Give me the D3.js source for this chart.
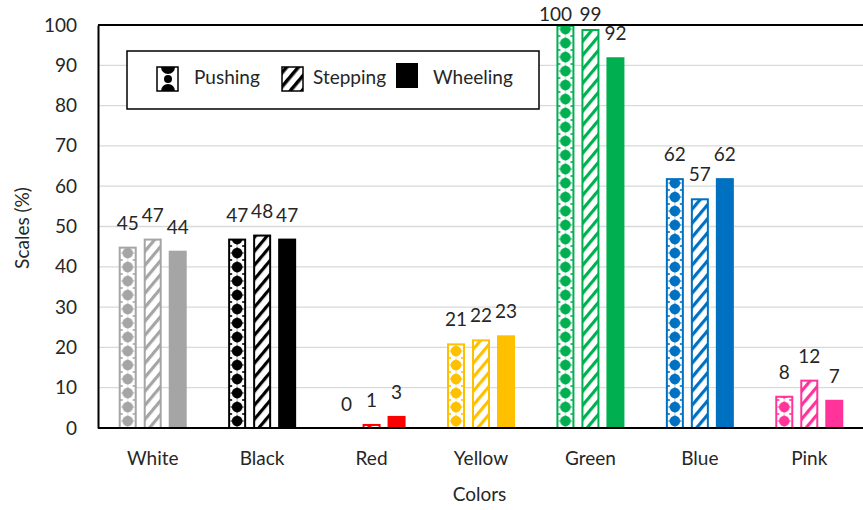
<!DOCTYPE html>
<html><head><meta charset="utf-8">
<script src="https://cdn.jsdelivr.net/npm/d3@7"></script>
<style>body{margin:0;background:#fff}svg{display:block}text{font-family:Lato,"Open Sans",sans-serif;fill:#262626}</style>
</head><body>
<svg id="c" width="863" height="510"></svg>
<script>
const categories = ["White","Black","Red","Yellow","Green","Blue","Pink"];
const colors = ["#A5A5A5","#000000","#FF0000","#FFC000","#00B050","#0070C0","#FF3399"];
const series = ["Pushing","Stepping","Wheeling"];
const pushing = [45,47,0,21,100,62,8];
const stepping = [47,48,1,22,99,57,12];
const wheeling = [44,47,3,23,92,62,7];
const yTicks = [0,10,20,30,40,50,60,70,80,90,100];
const values = {Pushing: pushing, Stepping: stepping, Wheeling: wheeling};

const svg = d3.select("#c");
const L = 98, R = 864, T = 25, B = 428;
const x = d3.scaleBand().domain(categories).range([L, R]).padding(0);
const y = d3.scaleLinear().domain([0,100]).range([B, T]);
const groupW = 68;
const xs = d3.scaleBand().domain(series).range([0, groupW]).paddingInner(0.28).paddingOuter(0);
const bw = xs.bandwidth();

const defs = svg.append("defs");
const PH = 14;
categories.forEach((c,i) => {
  const col = colors[i];
  // pushing pattern (coordinates local to the group)
  const p = defs.append("pattern").attr("id","push"+i).attr("patternUnits","userSpaceOnUse")
    .attr("x", xs("Pushing")).attr("y", B).attr("width", 200).attr("height", PH);
  p.append("rect").attr("width", 200).attr("height",PH).attr("fill","#fff");
  p.append("circle").attr("cx", bw/2).attr("cy", PH/2).attr("r", 5.3).attr("fill", col);
  p.append("path").attr("d", `M${bw/2},${PH/2-7}L${bw/2+2.2},${PH/2}L${bw/2},${PH/2+7}L${bw/2-2.2},${PH/2}Z`).attr("fill", col);
  p.append("path").attr("d", `M${bw/2-7.5},${PH/2}L${bw/2},${PH/2-2}L${bw/2+7.5},${PH/2}L${bw/2},${PH/2+2}Z`).attr("fill", col);
  p.append("rect").attr("x", 0).attr("y", -0.8).attr("width", 4).attr("height", 1.6).attr("fill", col);
  p.append("rect").attr("x", 0).attr("y", PH-0.8).attr("width", 4).attr("height", 1.6).attr("fill", col);
  p.append("rect").attr("x", bw-4).attr("y", -0.8).attr("width", 4).attr("height", 1.6).attr("fill", col);
  p.append("rect").attr("x", bw-4).attr("y", PH-0.8).attr("width", 4).attr("height", 1.6).attr("fill", col);
  // stepping stripes
  const s = defs.append("pattern").attr("id","step"+i).attr("patternUnits","userSpaceOnUse")
    .attr("width", 9).attr("height", 9).attr("patternTransform","rotate(40)");
  s.append("rect").attr("width",9).attr("height",9).attr("fill","#fff");
  s.append("rect").attr("x",0).attr("y",0).attr("width",3.2).attr("height",9).attr("fill",col);
});

// gridlines
svg.append("g").selectAll("line").data(yTicks.filter(t=>t>0 && t<100)).join("line")
  .attr("x1", L).attr("x2", 863).attr("y1", d=>y(d)).attr("y2", d=>y(d))
  .attr("stroke","#D9D9D9").attr("stroke-width",1.3);

// bars
const groups = svg.append("g").selectAll("g").data(categories).join("g")
  .attr("transform", c => `translate(${x(c) + (x.bandwidth()-groupW)/2},0)`);
groups.each(function(c, i){
  const g = d3.select(this);
  const col = colors[i];
  series.forEach(s => {
    const v = values[s][i];
    if (v <= 0) return;
    const x0 = xs(s), y0 = y(v), h = B - y0;
    if (s === "Wheeling") {
      g.append("rect").attr("x", x0).attr("y", y0).attr("width", bw).attr("height", h).attr("fill", col);
    } else {
      g.append("rect").attr("x", x0+1).attr("y", y0+1).attr("width", bw-2).attr("height", Math.max(h-1,0.5))
        .attr("fill", s === "Pushing" ? `url(#push${i})` : `url(#step${i})`)
        .attr("stroke", col).attr("stroke-width", 2);
    }
  });
  series.forEach((s, k) => {
    const v = values[s][i];
    const raw = y(v) - 17;
    const by = Math.max(raw, 21);
    let cx = xs(s) + bw/2;
    // labels pushed against the top edge slide sideways so they don't collide
    const next = series[k+1];
    if (raw < 21 && next && y(values[next][i]) - 17 < 21) cx -= 10;
    g.append("text").attr("x", cx).attr("y", by).attr("text-anchor","middle")
      .attr("font-size", 19).text(v);
  });
});

// axes lines / frame
svg.append("line").attr("x1", L).attr("x2", 863).attr("y1", T).attr("y2", T).attr("stroke","#000").attr("stroke-width",2);
const xAxis = d3.axisBottom(x).tickSize(0).tickPadding(29);
const gx = svg.append("g").attr("transform", `translate(0,${B})`).call(xAxis);
gx.select(".domain").attr("stroke","#000").attr("stroke-width",2).attr("d", `M${L},0H863`);
gx.selectAll("text").attr("font-size",19).attr("font-family","Lato").attr("fill","#262626").attr("dy","0.4em");
const yAxis = d3.axisLeft(y).tickValues(yTicks).tickSize(0).tickPadding(21);
const gy = svg.append("g").attr("transform", `translate(${L},0)`).call(yAxis);
gy.select(".domain").attr("stroke","#000").attr("stroke-width",2);
gy.selectAll("text").attr("font-size",19).attr("font-family","Lato").attr("fill","#262626");

// axis titles
svg.append("text").attr("x", (L+863)/2 - 1).attr("y", 501).attr("text-anchor","middle").attr("font-size",19).text("Colors");
svg.append("text").attr("transform","translate(29,228) rotate(-90)").attr("text-anchor","middle").attr("font-size",19).text("Scales (%)");

// legend
const lg = svg.append("g");
lg.append("rect").attr("x",127).attr("y",51).attr("width",412).attr("height",58).attr("fill","#fff").attr("stroke","#000").attr("stroke-width",1.5);
const legItems = [
  {name:"Pushing", sx:157, sy:67, tx:194},
  {name:"Stepping", sx:282, sy:67, tx:313},
  {name:"Wheeling", sx:396, sy:63, tx:433}
];
const lp = defs.append("pattern").attr("id","lpush").attr("patternUnits","userSpaceOnUse").attr("x",157).attr("y",67).attr("width",22).attr("height",24);
lp.append("rect").attr("width",22).attr("height",24).attr("fill","#fff");
lp.append("circle").attr("cx",11).attr("cy",0).attr("r",7).attr("fill","#000");
lp.append("circle").attr("cx",11).attr("cy",24).attr("r",7).attr("fill","#000");
lp.append("circle").attr("cx",11).attr("cy",12).attr("r",4).attr("fill","#000");
const ls = defs.append("pattern").attr("id","lstep").attr("patternUnits","userSpaceOnUse").attr("width",9).attr("height",9).attr("patternTransform","rotate(40)");
ls.append("rect").attr("width",9).attr("height",9).attr("fill","#fff");
ls.append("rect").attr("width",3.5).attr("height",9).attr("fill","#000");
lg.selectAll("g").data(legItems).join("g").each(function(d,i){
  const g = d3.select(this);
  if (i === 2) g.append("rect").attr("x",d.sx).attr("y",d.sy).attr("width",22).attr("height",25).attr("fill","#000");
  else g.append("rect").attr("x",d.sx).attr("y",d.sy).attr("width",21).attr("height",24)
        .attr("fill", i===0 ? "url(#lpush)" : "url(#lstep)").attr("stroke","#000").attr("stroke-width",1.5);
  g.append("text").attr("x",d.tx).attr("y",84).attr("font-size",19).text(d.name);
});
</script>
</body></html>
